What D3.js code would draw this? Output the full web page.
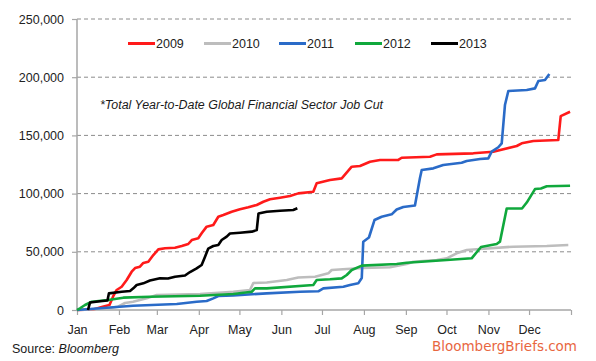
<!DOCTYPE html>
<html>
<head>
<meta charset="utf-8">
<script src="https://cdn.jsdelivr.net/npm/d3@7"></script>
<style>
  body { margin: 0; background: #ffffff; }
  svg { display: block; font-family: "Liberation Sans", Arial, sans-serif; }
</style>
</head>
<body>
<svg></svg>
<script>
// day of year, job cuts in thousands
let cuts2009 = [[0,0],[12,0.5],[19,2.8],[24,4.3],[26.6,11.4],[29.3,17.2],[33,20],[36.7,25.8],[40.4,32.9],[42.9,36],
  [46.5,37.2],[49,40.4],[52.7,41.5],[56.4,47.2],[60.1,52.1],[65,53],[72.4,53.5],[77.4,55],[82.2,56.7],[84.8,60.1],
  [89.6,61.6],[92.1,65.9],[95.8,71.6],[100.7,73],[104.4,80.1],[108.1,81.6],[114.3,84.4],[120.4,86.5],[126.6,88.2],
  [132.8,90.2],[137.7,93],[142.6,95.1],[150,96.5],[157.4,97.9],[163.5,100.2],[174.6,101.6],[177.1,108.8],[186.9,111.7],
  [195.6,113.1],[203,123.1],[209.1,123.7],[216.5,127.4],[223.9,128.9],[237.4,128.9],[239.9,130.8],[260.8,131.7],
  [265.8,133.7],[292.8,134.6],[307.6,136],[324.9,140.9],[328.6,143.2],[337.2,145.2],[355.6,146],[357.4,166.6],[364.3,170.3]];

let cuts2010 = [[0,0],[20,1],[30.3,2.8],[35.5,6],[41.4,7.1],[51.5,10],[58.9,12.9],[90.9,13.7],[115.5,15.7],[127.8,17.2],
  [130.3,23.2],[140.2,23.6],[155,25.8],[163.5,27.9],[175.9,28.6],[185.7,31.5],[188.2,34.4],[199.3,35.2],[211.5,36.1],
  [231.3,36.7],[243.6,39.5],[248.5,41.5],[265.8,43],[273.2,44.4],[280.5,48.7],[288,51.5],[297.8,52.4],[322.4,54.4],
  [347.1,55],[363,55.8]];

let cuts2011 = [[0,0],[17,1.5],[41.4,3.7],[73.7,5.2],[88.4,7.1],[95.8,7.7],[100.7,10],[104.4,12],[115.5,12.6],[140.2,14.3],
  [164.8,15.7],[178.3,16.1],[182,18.6],[196.8,20],[201.7,21.5],[207.8,22.9],[210.4,27.5],[211.5,58.7],[215.7,62.3],
  [219.8,77.3],[225.1,80.1],[232.5,82.2],[236.2,86.3],[241.1,88.5],[249.7,89.8],[253.4,113.4],[254.7,120.3],[263.3,121.7],
  [270.6,124.6],[284.2,126.5],[287.9,128],[297.8,129.7],[303.9,130.3],[306.4,136],[311.3,139.8],[313.8,143.2],
  [316.2,176.1],[318.7,188.1],[332.3,189],[338.4,190.4],[340.9,196.7],[345.8,197.6],[349,202.7]];

let cuts2012 = [[0,0],[2.2,1.5],[5.9,4.3],[10.9,7.1],[23.1,8.6],[34.2,10.6],[53.9,11.4],[90.9,12.3],[115.5,13.7],
  [129.1,15.7],[131.5,18.6],[140.2,18.6],[174.6,21.5],[177.1,25.8],[186.9,26.4],[195.6,27.2],[199.3,30.1],[203,34.4],
  [210.4,38.1],[236.2,39.5],[243.6,40.6],[273.2,42.9],[291.6,44.4],[298.5,54.1],[310.1,56.7],[312.5,58.7],[317.5,87.2],
  [328.8,87.2],[332.3,92.3],[338.4,103.9],[342.8,104.4],[347.1,106.3],[364.3,106.8]];

let cuts2013 = [[8.1,0],[9.6,6.4],[17,7.5],[22.5,8.2],[23.6,14.3],[33,15.7],[39.2,16.3],[41.6,18.6],[44.1,21.5],[49,22.9],
  [53.9,25.3],[61.3,27.2],[67.2,27],[72.4,28.6],[79.8,29.6],[83.5,32.6],[88.4,35.8],[92.1,38.7],[94.6,45.8],[97,52.8],
  [100.7,55],[104.4,55.8],[106.9,60.1],[110.6,63],[113,65.7],[120.4,66.4],[129.1,67.3],[132.8,68.7],[134.1,82.9],
  [140.2,84.4],[150,85.3],[159.8,85.9],[162.8,87.4]];

let seriesNames = ['2009', '2010', '2011', '2012', '2013'];
let seriesData = [cuts2009, cuts2010, cuts2011, cuts2012, cuts2013];
let seriesColors = ['#ff1a1a', '#bdbdbd', '#2a6bc8', '#10a83c', '#000000'];

let monthStarts = [0, 31, 59, 90, 120, 151, 181, 212, 243, 273, 304, 334, 365];
let monthLabels = ['Jan', 'Feb', 'Mar', 'Apr', 'May', 'Jun', 'Jul', 'Aug', 'Sep', 'Oct', 'Nov', 'Dec', ''];
let yTicks = [0, 50, 100, 150, 200, 250];

let width = 596;
let height = 361;
let plotLeft = 77;
let plotRight = 571;
let plotTop = 19;
let plotBottom = 310;

let svg = d3.select('svg').attr('width', width).attr('height', height);

let xScale = d3.scaleLinear().domain([0, 365]).range([plotLeft, plotRight]);
let yScale = d3.scaleLinear().domain([0, 250]).range([plotBottom, plotTop]);

// gridlines
svg.append('g').
  selectAll('line').
  data(yTicks.filter(t => t > 0)).
  enter().
  append('line').
  attr('x1', plotLeft).
  attr('x2', plotRight + 2).
  attr('y1', d => yScale(d)).
  attr('y2', d => yScale(d)).
  attr('stroke', '#8c8c8c').
  attr('stroke-width', 1).
  attr('stroke-dasharray', '4,3');

// axes
let yAxis = d3.axisLeft(yScale).
  tickValues(yTicks).
  tickSize(5).
  tickPadding(8).
  tickFormat(d => d3.format(',')(d * 1000));

let yg = svg.append('g').
  attr('transform', 'translate(' + plotLeft + ',0)').
  call(yAxis);

let xAxis = d3.axisBottom(xScale).
  tickValues(monthStarts).
  tickSize(5).
  tickPadding(10).
  tickFormat((d, i) => monthLabels[i]);

let xg = svg.append('g').
  attr('transform', 'translate(0,' + plotBottom + ')').
  call(xAxis);

[yg, xg].forEach(g => {
  g.select('.domain').attr('stroke', '#a6a6a6').attr('stroke-width', 1.5);
  g.selectAll('.tick line').attr('stroke', '#a6a6a6').attr('stroke-width', 1.2);
  g.selectAll('.tick text').
    attr('fill', '#222').
    style('font-size', '12.5px').
    style('font-family', '"Liberation Sans", Arial, sans-serif');
});
yg.select('.domain').attr('d', 'M0,' + plotBottom + 'V' + plotTop);
xg.select('.domain').attr('d', 'M' + plotLeft + ',0H' + plotRight);

// series
let line = d3.line().
  x(d => xScale(d[0])).
  y(d => yScale(d[1]));

svg.append('g').
  selectAll('path').
  data(seriesData).
  enter().
  append('path').
  attr('d', d => line(d)).
  attr('fill', 'none').
  attr('stroke', (d, i) => seriesColors[i]).
  attr('stroke-width', 2.6).
  attr('stroke-linejoin', 'round');

// legend
let legendX = [128, 204, 279, 355, 431];
let legend = svg.append('g').
  selectAll('g').
  data(seriesNames).
  enter().
  append('g').
  attr('transform', (d, i) => 'translate(' + legendX[i] + ',43.5)');

legend.append('line').
  attr('x1', 0).
  attr('x2', 27).
  attr('stroke', (d, i) => seriesColors[i]).
  attr('stroke-width', 3);

legend.append('text').
  attr('x', 28).
  attr('dy', '0.36em').
  attr('fill', '#222').
  style('font-size', '12.5px').
  text(d => d);

// annotation
svg.append('text').
  attr('x', 100).
  attr('y', 109).
  attr('textLength', 283).
  attr('lengthAdjust', 'spacingAndGlyphs').
  attr('fill', '#1a1a1a').
  style('font-size', '12.5px').
  style('font-style', 'italic').
  text('*Total Year-to-Date Global Financial Sector Job Cut');

// source
let source = svg.append('text').
  attr('x', 12).
  attr('y', 352.5).
  attr('fill', '#1a1a1a').
  style('font-size', '12.5px');
source.append('tspan').text('Source: ');
source.append('tspan').style('font-style', 'italic').text('Bloomberg');

svg.append('text').
  attr('x', 432).
  attr('y', 351).
  attr('textLength', 145).
  attr('lengthAdjust', 'spacingAndGlyphs').
  attr('fill', '#e8663f').
  style('font-size', '14px').
  style('font-family', '"DejaVu Sans", sans-serif').
  text('BloombergBriefs.com');
</script>
</body>
</html>
